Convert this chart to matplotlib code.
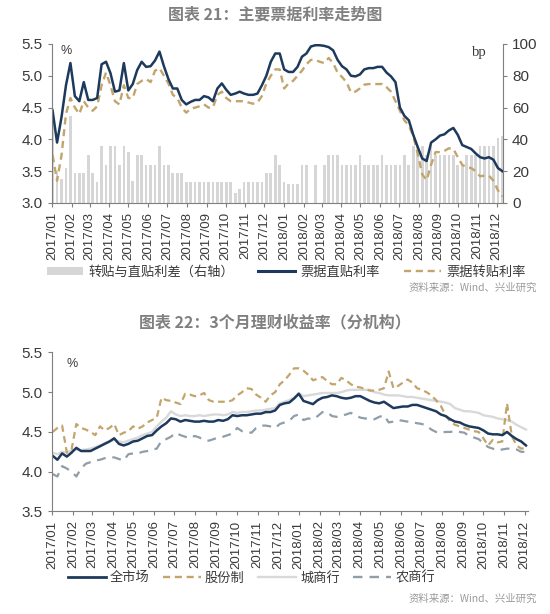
import matplotlib
matplotlib.use("Agg")
import matplotlib.pyplot as plt
import matplotlib.dates as mdates
from matplotlib.patches import Patch
from matplotlib.lines import Line2D
import pandas as pd

CJK = ["Noto Sans CJK SC", "DejaVu Sans"]
plt.rcParams["font.family"] = ["Liberation Sans", "Noto Sans CJK SC", "DejaVu Sans"]

# ---- chart 21: weekly bill rates ----
dates_top = pd.date_range("2017-01-02", periods=102, freq="7D")

zhitie = [4.45, 3.95, 4.35, 4.85, 5.2, 4.68, 4.6, 4.9, 4.62, 4.62,
          4.65, 5.18, 5.22, 5.04, 4.75, 4.77, 5.2, 4.77, 4.87, 5.09,
          5.22, 5.14, 5.15, 5.24, 5.38, 5.15, 4.95, 4.8, 4.8, 4.62,
          4.55, 4.59, 4.62, 4.62, 4.68, 4.66, 4.6, 4.8, 4.88, 4.78,
          4.7, 4.72, 4.75, 4.72, 4.7, 4.7, 4.72, 4.85, 5.0, 5.22,
          5.35, 5.35, 5.1, 5.06, 5.06, 5.14, 5.3, 5.35, 5.46, 5.48,
          5.48, 5.47, 5.45, 5.4, 5.25, 5.15, 5.1, 5.0, 4.99, 5.02,
          5.1, 5.12, 5.12, 5.14, 5.14, 5.05, 4.99, 4.9, 4.5, 4.37,
          4.3, 4.07, 3.88, 3.7, 3.66, 3.95, 4.0, 4.06, 4.08, 4.14,
          4.18, 4.07, 3.91, 3.88, 3.85, 3.78, 3.72, 3.7, 3.72, 3.68,
          3.55, 3.5]

zhuantie = [3.75, 3.35, 3.75, 4.4, 4.65, 4.5, 4.4, 4.6, 4.5, 4.45,
            4.52, 4.85, 5.05, 4.85, 4.6, 4.55, 4.85, 4.65, 4.65, 4.87,
            4.92, 4.95, 4.9, 5.08, 5.12, 5.0, 4.88, 4.7, 4.65, 4.5,
            4.42, 4.48, 4.5, 4.52, 4.55, 4.5, 4.5, 4.7, 4.75, 4.65,
            4.6, 4.6, 4.6, 4.6, 4.58, 4.56, 4.58, 4.68, 4.88, 5.0,
            5.1, 5.1, 4.8, 4.88, 4.92, 5.0, 5.08, 5.18, 5.25, 5.25,
            5.22, 5.2, 5.28, 5.2, 5.05, 4.98, 4.9, 4.74, 4.75, 4.8,
            4.86, 4.87, 4.87, 4.87, 4.87, 4.82, 4.75, 4.6, 4.45, 4.3,
            4.22, 4.05, 3.78, 3.45, 3.36, 3.6, 3.8, 3.8, 3.82, 3.86,
            3.85, 3.72, 3.6, 3.56, 3.55, 3.5, 3.42, 3.43, 3.43, 3.35,
            3.2, 3.1]

spread_bp = [60, 20, 15, 22, 55, 19, 19, 19, 30, 19,
             13, 36, 24, 36, 36, 24, 36, 32, 14, 30,
             30, 24, 24, 24, 36, 24, 24, 19, 19, 19,
             13, 13, 13, 13, 13, 13, 13, 13, 13, 13,
             13, 6, 9, 13, 13, 13, 13, 13, 19, 19,
             30, 24, 13, 12, 12, 12, 24, 24, 0, 24,
             0, 24, 30, 30, 30, 24, 24, 24, 24, 30,
             24, 24, 24, 24, 30, 24, 24, 24, 24, 30,
             24, 36, 36, 36, 30, 36, 30, 30, 30, 30,
             30, 24, 24, 30, 30, 30, 36, 36, 36, 36,
             41, 42]

# ---- chart 22: 3-month WMP yields by institution ----
dates_bot = pd.date_range("2017-01-02", periods=101, freq="7D")

quanshichang = [4.2, 4.15, 4.23, 4.19, 4.24, 4.3, 4.26, 4.26, 4.26, 4.29,
                4.32, 4.35, 4.38, 4.42, 4.35, 4.33, 4.35, 4.38, 4.39, 4.42,
                4.45, 4.46, 4.52, 4.57, 4.61, 4.67, 4.66, 4.63, 4.65, 4.64,
                4.63, 4.63, 4.64, 4.63, 4.63, 4.65, 4.64, 4.66, 4.71, 4.7,
                4.71, 4.71, 4.72, 4.73, 4.73, 4.75, 4.75, 4.77, 4.84, 4.86,
                4.87, 4.92, 4.98, 4.89, 4.87, 4.85, 4.9, 4.93, 4.94, 4.96,
                4.95, 4.93, 4.92, 4.93, 4.95, 4.95, 4.92, 4.89, 4.87, 4.86,
                4.88, 4.84, 4.8, 4.81, 4.82, 4.82, 4.84, 4.84, 4.82, 4.8,
                4.78, 4.76, 4.72, 4.7, 4.66, 4.63, 4.62, 4.59, 4.57, 4.56,
                4.55, 4.52, 4.48, 4.47, 4.47, 4.46, 4.5, 4.45, 4.41, 4.38,
                4.33]

gufenzhi = [4.5, 4.55, 4.58, 4.24, 4.28, 4.6, 4.55, 4.53, 4.5, 4.46,
            4.57, 4.52, 4.55, 4.6, 4.46, 4.49, 4.51, 4.57, 4.54, 4.57,
            4.62, 4.65, 4.68, 4.93, 4.9, 4.89, 4.87, 4.85, 4.98, 4.97,
            4.95, 4.96, 4.99, 4.9, 4.88, 4.88, 4.88, 4.88, 4.9, 4.96,
            5.0, 5.05, 5.04, 4.97, 4.93, 4.88, 4.96, 5.0, 5.1, 5.15,
            5.22, 5.3, 5.3, 5.27, 5.22, 5.15, 5.17, 5.19, 5.14, 5.1,
            5.1, 5.18, 5.15, 5.1, 5.07, 5.06, 5.04, 5.02, 5.02, 5.03,
            5.05, 5.26, 5.05, 5.08, 5.12, 5.16, 5.12, 5.05, 5.03, 5.0,
            4.96, 4.9, 4.83, 4.71, 4.63, 4.59, 4.57, 4.55, 4.53, 4.51,
            4.5, 4.42, 4.33, 4.4, 4.37, 4.38, 4.86, 4.45, 4.33, 4.29,
            4.3]

chengshang = [4.24, 4.22, 4.25, 4.24, 4.27, 4.28, 4.27, 4.28, 4.29, 4.31,
              4.33, 4.36, 4.38, 4.4, 4.38, 4.37, 4.39, 4.41, 4.43, 4.46,
              4.48, 4.5, 4.57, 4.63, 4.68, 4.76, 4.72, 4.7, 4.71, 4.7,
              4.7, 4.71, 4.7, 4.71, 4.72, 4.72, 4.71, 4.72, 4.75, 4.74,
              4.75, 4.75, 4.76, 4.77, 4.77, 4.78, 4.79, 4.8, 4.86, 4.88,
              4.9, 4.93, 4.99, 4.95, 4.96, 4.97, 4.98, 4.99, 4.99, 4.99,
              4.99, 5.0, 5.02, 5.03, 5.03, 5.03, 5.03, 5.03, 5.0, 4.99,
              4.97, 4.96, 4.96, 4.96, 4.95, 4.94, 4.94, 4.93, 4.92, 4.91,
              4.9, 4.89, 4.88, 4.87, 4.85, 4.8, 4.78, 4.76, 4.76, 4.75,
              4.74, 4.71, 4.7, 4.69, 4.67, 4.66, 4.65, 4.63, 4.59, 4.56,
              4.53]

nongshang = [3.97, 3.94, 4.07, 4.04, 4.0, 3.94, 4.04, 4.1, 4.12, 4.14,
             4.15, 4.17, 4.18, 4.18, 4.16, 4.14, 4.22, 4.23, 4.23, 4.25,
             4.26, 4.28, 4.29, 4.39, 4.41, 4.44, 4.49, 4.46, 4.44, 4.42,
             4.45, 4.43, 4.4, 4.39, 4.41, 4.43, 4.44, 4.46, 4.48, 4.55,
             4.51, 4.5, 4.49, 4.55, 4.58, 4.58, 4.57, 4.55, 4.6, 4.62,
             4.64, 4.7, 4.72, 4.65, 4.67, 4.66, 4.7, 4.75, 4.75, 4.7,
             4.69, 4.7, 4.72, 4.74, 4.71, 4.68, 4.67, 4.66, 4.66, 4.69,
             4.71, 4.62, 4.63, 4.65, 4.64, 4.63, 4.62, 4.61, 4.6, 4.58,
             4.53, 4.5, 4.49, 4.5, 4.5, 4.51, 4.5, 4.49, 4.45, 4.43,
             4.41, 4.36, 4.31, 4.29, 4.27, 4.28, 4.29, 4.29, 4.28, 4.25,
             4.25]

month_ticks = pd.date_range("2017-01-01", "2018-12-01", freq="MS")

NAVY = "#1d3a5c"
TAN = "#c3a56c"
BAR = "#d6d6d6"
LIGHT = "#d9d9d9"
GREYBLUE = "#8f9ea8"
AXC = "#7f7f7f"
TXT = "#3a3a3a"


def style_axis(ax):
    for s in ["top", "right"]:
        ax.spines[s].set_visible(False)
    for s in ["left", "bottom"]:
        ax.spines[s].set_color(AXC)
    ax.tick_params(axis="both", colors=AXC, labelcolor=TXT, direction="out", length=3)
    ax.tick_params(axis="y", labelsize=11)
    ax.tick_params(axis="x", labelsize=9.5, rotation=90)
    ax.set_xticks(month_ticks)
    ax.xaxis.set_major_formatter(mdates.DateFormatter("%Y/%m"))
    ax.yaxis.set_major_formatter(plt.FuncFormatter(lambda v, p: "%.1f" % v))


fig = plt.figure(figsize=(5.5, 6.14), dpi=100)

# ---------------- top chart ----------------
ax1 = fig.add_axes([0.0945, 0.6694, 0.82, 0.259])
ax1b = ax1.twinx()
ax1b.bar(dates_top, spread_bp, width=4.2, color=BAR, zorder=1)
ax1b.set_ylim(0, 100)
ax1b.set_yticks([0, 20, 40, 60, 80, 100])
ax1b.spines["right"].set_color(AXC)
for s in ["top", "left", "bottom"]:
    ax1b.spines[s].set_visible(False)
ax1b.tick_params(axis="y", colors=AXC, labelcolor=TXT, labelsize=11, length=3)

ax1.set_zorder(ax1b.get_zorder() + 1)
ax1.patch.set_visible(False)
ax1.plot(dates_top, zhuantie, color=TAN, lw=1.7, dashes=(3, 2))
ax1.plot(dates_top, zhitie, color=NAVY, lw=1.8)
ax1.set_ylim(3.0, 5.5)
ax1.set_yticks([3.0, 3.5, 4.0, 4.5, 5.0, 5.5])
ax1.set_xlim(pd.Timestamp("2017-01-01"), pd.Timestamp("2018-12-11"))
style_axis(ax1)
ax1.text(0.02, 0.995, "%", transform=ax1.transAxes, fontsize=9, color=TXT, va="top")
ax1.text(0.965, 0.985, "bp", transform=ax1.transAxes, fontsize=10.5, color=TXT,
         va="top", ha="right", family="Liberation Serif")

fig.text(0.5, 0.977, "图表 21：主要票据利率走势图", ha="center", va="center",
         fontsize=11.5, color="#808080", family=CJK, weight="bold")

h_top = [Patch(facecolor=BAR, edgecolor="none"),
         Line2D([], [], color=NAVY, lw=2.2),
         Line2D([], [], color=TAN, lw=1.7, dashes=(3, 2))]
l_top = ["转贴与直贴利差（右轴）", "票据直贴利率", "票据转贴利率"]
fig.legend(h_top, l_top, loc="center", bbox_to_anchor=(0.52, 0.557), ncol=3,
           frameon=False, prop={"family": CJK, "size": 9.5}, handlelength=2.8,
           handleheight=0.5, columnspacing=1.8, handletextpad=0.4,
           labelcolor=TXT)
fig.text(0.977, 0.531, "资料来源：Wind、兴业研究", ha="right", va="center",
         fontsize=7.5, color="#9a9a9a", family=CJK)

# ---------------- bottom chart ----------------
ax2 = fig.add_axes([0.0945, 0.167, 0.8655, 0.259])
ax2.plot(dates_bot, chengshang, color=LIGHT, lw=1.7)
ax2.plot(dates_bot, nongshang, color=GREYBLUE, lw=1.6, dashes=(4, 3))
ax2.plot(dates_bot, gufenzhi, color=TAN, lw=1.6, dashes=(3, 2))
ax2.plot(dates_bot, quanshichang, color=NAVY, lw=1.8)
ax2.set_ylim(3.5, 5.5)
ax2.set_yticks([3.5, 4.0, 4.5, 5.0, 5.5])
ax2.set_xlim(pd.Timestamp("2017-01-01"), pd.Timestamp("2018-12-06"))
style_axis(ax2)
ax2.text(0.03, 0.93, "%", transform=ax2.transAxes, fontsize=9, color=TXT, va="center")

fig.text(0.5, 0.4756, "图表 22：3个月理财收益率（分机构）", ha="center", va="center",
         fontsize=11.5, color="#808080", family=CJK, weight="bold")

h_bot = [Line2D([], [], color=NAVY, lw=2.0),
         Line2D([], [], color=TAN, lw=1.7, dashes=(3, 2)),
         Line2D([], [], color=LIGHT, lw=1.7),
         Line2D([], [], color=GREYBLUE, lw=1.7, dashes=(4, 3))]
l_bot = ["全市场", "股份制", "城商行", "农商行"]
fig.legend(h_bot, l_bot, loc="center", bbox_to_anchor=(0.457, 0.059), ncol=4,
           frameon=False, prop={"family": CJK, "size": 9.5}, handlelength=2.9,
           columnspacing=1.0, handletextpad=0.3, labelcolor=TXT)
fig.text(0.977, 0.0244, "资料来源：Wind、兴业研究", ha="right", va="center",
         fontsize=7.5, color="#9a9a9a", family=CJK)

fig.savefig("out.png", dpi=100, facecolor="white")
